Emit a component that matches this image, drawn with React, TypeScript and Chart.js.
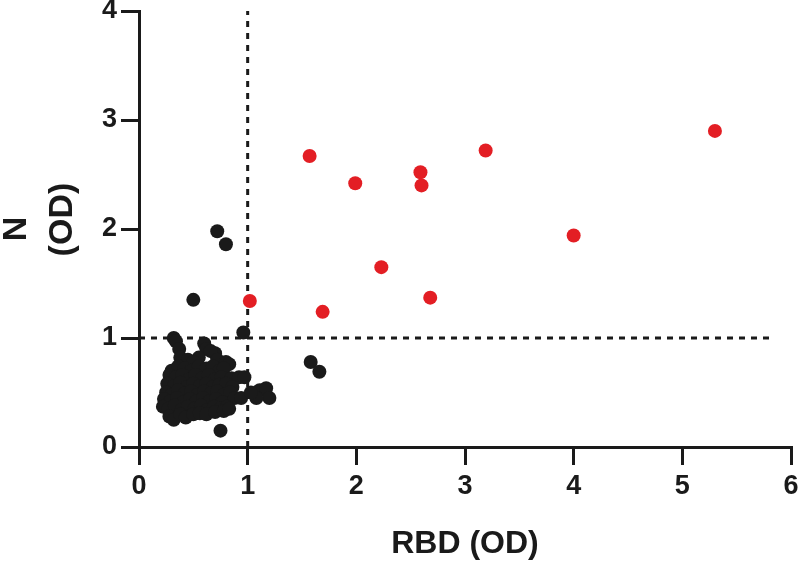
import React, { useEffect, useRef } from "react";
import { Chart, registerables } from "chart.js";

Chart.register(...registerables);

// Black (below-threshold) samples
const blackX = [
  0.32, 0.34,
  0.37, 0.60, 0.62, 0.70, 0.66,
  0.38, 0.45, 0.55, 0.72, 0.80, 0.83, 0.50,
  0.30, 0.36, 0.42, 0.48, 0.55, 0.62, 0.68, 0.74, 0.78,
  0.28, 0.34, 0.40, 0.46, 0.52, 0.58, 0.64, 0.70, 0.76, 0.85, 0.92, 0.97,
  0.26, 0.32, 0.38, 0.44, 0.50, 0.56, 0.62, 0.68, 0.74, 0.80, 0.86,
  0.25, 0.30, 0.36, 0.42, 0.48, 0.54, 0.60, 0.66, 0.72, 0.78, 0.84,
  0.23, 0.29, 0.35, 0.41, 0.47, 0.53, 0.59, 0.65, 0.71, 0.77, 0.88, 0.94,
  0.22, 0.27, 0.33, 0.39, 0.45, 0.51, 0.57, 0.63, 0.69, 0.75, 0.81,
  0.28, 0.32, 0.38, 0.43, 0.50, 0.56, 0.62, 0.70, 0.78, 0.83,
  0.72, 0.80, 0.50, 0.96, 1.58, 1.66, 0.75, 1.11, 1.17, 1.20, 1.08, 1.03,
];
const blackY = [
  1.00, 0.97,
  0.90, 0.95, 0.90, 0.86, 0.88,
  0.82, 0.80, 0.82, 0.80, 0.78, 0.76, 0.78,
  0.70, 0.74, 0.72, 0.70, 0.74, 0.72, 0.74, 0.70, 0.72,
  0.66, 0.64, 0.66, 0.62, 0.66, 0.63, 0.66, 0.62, 0.64, 0.63, 0.64, 0.64,
  0.58, 0.56, 0.59, 0.55, 0.58, 0.56, 0.58, 0.55, 0.57, 0.58, 0.55,
  0.50, 0.48, 0.52, 0.49, 0.51, 0.48, 0.51, 0.49, 0.51, 0.48, 0.50,
  0.44, 0.42, 0.45, 0.41, 0.44, 0.42, 0.45, 0.42, 0.44, 0.41, 0.45, 0.45,
  0.37, 0.35, 0.38, 0.34, 0.37, 0.35, 0.38, 0.34, 0.37, 0.35, 0.37,
  0.28, 0.25, 0.30, 0.27, 0.30, 0.31, 0.30, 0.32, 0.33, 0.35,
  1.98, 1.86, 1.35, 1.05, 0.78, 0.69, 0.15, 0.52, 0.54, 0.45, 0.45, 0.50,
];

// Red (positive) samples
const redX = [1.57, 1.99, 2.59, 2.60, 3.19, 5.30, 4.00, 2.23, 2.68, 1.69, 1.02];
const redY = [2.67, 2.42, 2.52, 2.40, 2.72, 2.90, 1.94, 1.65, 1.37, 1.24, 1.34];

// Cut-off lines
const cutoffX = 1;
const cutoffY = 1;
const hLineEnd = 5.84;

const xTicks = [0, 1, 2, 3, 4, 5, 6];
const yTicks = [0, 1, 2, 3, 4];

const INK = "#1a1a1a";
const RED = "#e31e24";
const FONT = "'Liberation Sans', Arial, Helvetica, sans-serif";

export default function App() {
  const ref = useRef<HTMLCanvasElement>(null);

  useEffect(() => {
    document.body.style.margin = "0";
    const ctx = ref.current!.getContext("2d")!;
    const chart = new Chart(ctx, {
      type: "scatter",
      data: {
        datasets: [
          {
            data: redX.map((x, i) => ({ x, y: redY[i] })),
            backgroundColor: RED,
            borderWidth: 0,
            pointRadius: 7,
            order: 0,
          },
          {
            data: blackX.map((x, i) => ({ x, y: blackY[i] })),
            backgroundColor: INK,
            borderWidth: 0,
            pointRadius: 7,
            order: 1,
          },
          {
            data: [
              { x: cutoffX, y: 0 },
              { x: cutoffX, y: yTicks[yTicks.length - 1] },
            ],
            showLine: true,
            borderColor: INK,
            borderWidth: 3,
            borderDash: [6, 6],
            pointRadius: 0,
            order: 2,
          },
          {
            data: [
              { x: 0, y: cutoffY },
              { x: hLineEnd, y: cutoffY },
            ],
            showLine: true,
            borderColor: INK,
            borderWidth: 3,
            borderDash: [6, 6],
            pointRadius: 0,
            order: 2,
          },
        ],
      },
      options: {
        animation: false,
        responsive: false,
        layout: { padding: { top: 11, right: 9, left: 0, bottom: 0 } },
        plugins: { legend: { display: false }, tooltip: { enabled: false } },
        scales: {
          x: {
            type: "linear",
            min: xTicks[0],
            max: xTicks[xTicks.length - 1],
            afterFit: (s: any) => {
              s.height = 116;
              s.paddingLeft = 0;
              s.paddingRight = 0;
            },
            afterBuildTicks: (s: any) => {
              s.ticks = xTicks.map((v) => ({ value: v }));
            },
            ticks: {
              stepSize: 1,
              color: INK,
              padding: 5,
              font: { family: FONT, size: 27, weight: "bold" },
            },
            grid: {
              drawOnChartArea: false,
              drawTicks: true,
              tickLength: 18,
              lineWidth: 3,
              color: INK,
            },
            border: { display: true, width: 3, color: INK },
            title: {
              display: true,
              text: "RBD (OD)",
              color: INK,
              padding: { top: 10, bottom: 0 },
              font: { family: FONT, size: 32, weight: "bold" },
            },
          },
          y: {
            type: "linear",
            min: yTicks[0],
            max: yTicks[yTicks.length - 1],
            afterFit: (s: any) => {
              s.width = 139;
              s.paddingTop = 0;
              s.paddingBottom = 0;
            },
            afterBuildTicks: (s: any) => {
              s.ticks = yTicks.map((v) => ({ value: v }));
            },
            ticks: {
              stepSize: 1,
              color: INK,
              padding: 4,
              font: { family: FONT, size: 27, weight: "bold" },
            },
            grid: {
              drawOnChartArea: false,
              drawTicks: true,
              tickLength: 18,
              lineWidth: 3,
              color: INK,
            },
            border: { display: true, width: 3, color: INK },
            title: {
              display: true,
              text: ["N", "  (OD)"],
              color: INK,
              padding: { top: -6, bottom: 0 },
              font: { family: FONT, size: 34, weight: "bold", lineHeight: 1.35 },
            },
          },
        },
      },
    });
    return () => chart.destroy();
  }, []);

  return (
    <div style={{ width: 800, height: 563 }}>
      <canvas ref={ref} width={800} height={563} style={{ display: "block" }} />
    </div>
  );
}
